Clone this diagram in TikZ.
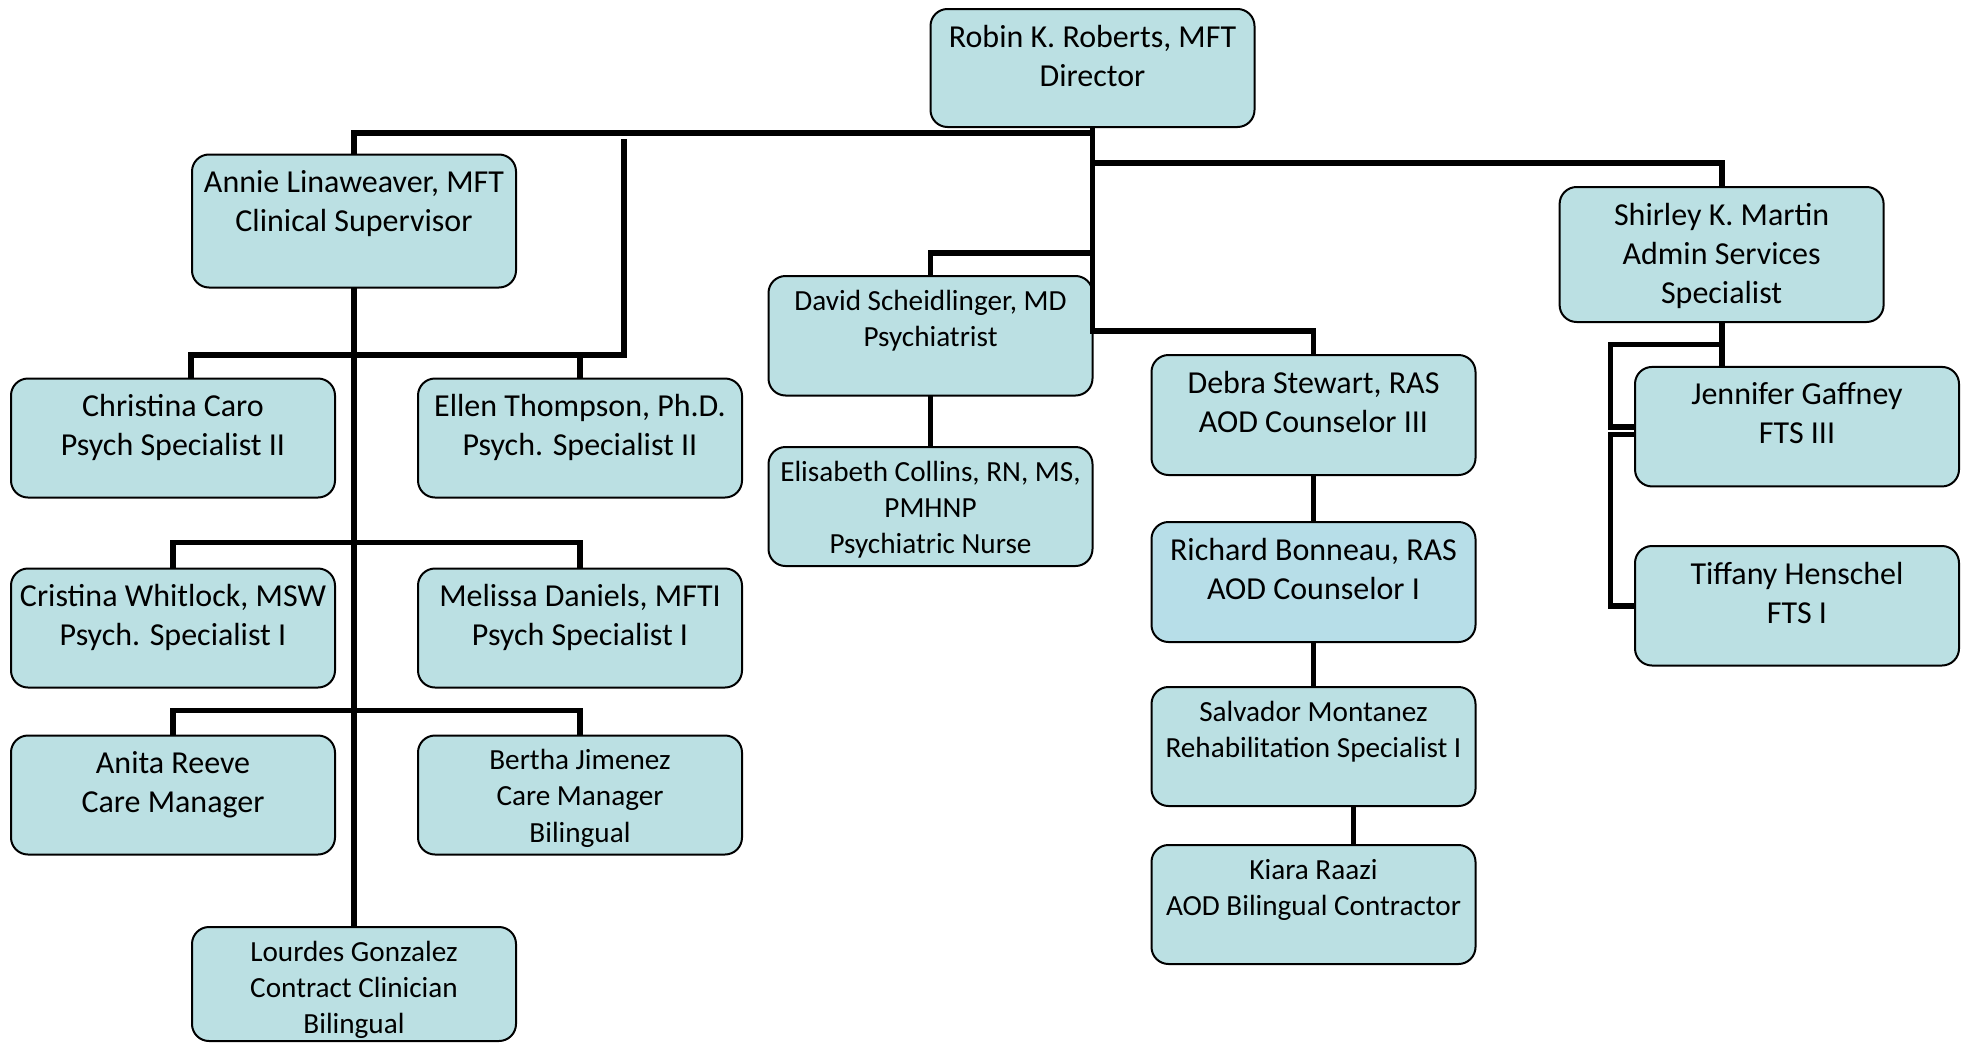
\documentclass[tikz,border=0pt]{standalone}
\usepackage{fontspec}
\setmainfont{Carlito}
\definecolor{boxfill}{HTML}{BBE0E3}
\definecolor{boxfillb}{HTML}{B7DEE8}

% box contents: #1 total height, #2 text (large type)
\newcommand{\bigtxt}[2]{\parbox[t][#1][t]{162pt}{\centering\fontsize{16pt}{19.5pt}\selectfont\rule{0pt}{19pt}#2}}
% box contents with smaller type
\newcommand{\smalltxt}[2]{\parbox[t][#1][t]{162pt}{\centering\fontsize{14.6pt}{18.2pt}\selectfont\rule{0pt}{17pt}#2}}

\tikzset{
  orgbox/.style={draw=black, line width=1pt, rounded corners=8.5pt, fill=boxfill,
    inner sep=0pt, outer sep=0pt},
  conn/.style={draw=black, line width=2.9pt, line join=miter}
}

\begin{document}
\begin{tikzpicture}[x=0.5pt,y=-0.5pt]
\useasboundingbox (0,0) rectangle (1969,1044);

% ---- people ----
\node[orgbox] (robin)    at (1092.5,68)   {\bigtxt{59pt}{Robin K. Roberts, MFT\\Director}};
\node[orgbox] (annie)    at (354,221)     {\bigtxt{66.5pt}{Annie Linaweaver, MFT\\Clinical Supervisor}};
\node[orgbox] (caro)     at (173,438)     {\bigtxt{59.5pt}{Christina Caro\\Psych Specialist II}};
\node[orgbox] (ellen)    at (580,438)     {\bigtxt{59.5pt}{Ellen Thompson, Ph.D.\\Psych. Specialist II}};
\node[orgbox] (whitlock) at (173,628)     {\bigtxt{59.5pt}{Cristina Whitlock, MSW\\Psych. Specialist I}};
\node[orgbox] (daniels)  at (580,628)     {\bigtxt{59.5pt}{Melissa Daniels, MFTI\\Psych Specialist I}};
\node[orgbox] (reeve)    at (173,795)     {\bigtxt{59.5pt}{Anita Reeve\\Care Manager}};
\node[orgbox] (jimenez)  at (580,795)     {\smalltxt{59.5pt}{Bertha Jimenez\\Care Manager\\Bilingual}};
\node[orgbox] (gonzalez) at (354,984)     {\smalltxt{57pt}{Lourdes Gonzalez\\Contract Clinician\\Bilingual}};
\node[orgbox] (david)    at (930.5,335.75){\smalltxt{59.75pt}{David Scheidlinger, MD\\Psychiatrist}};
\node[orgbox] (collins)  at (930.5,506.5) {\smalltxt{59.5pt}{Elisabeth Collins, RN, MS,\\PMHNP\\Psychiatric Nurse}};
\node[orgbox] (stewart)  at (1313.5,415)  {\bigtxt{60pt}{Debra Stewart, RAS\\AOD Counselor III}};
\node[orgbox, fill=boxfillb] (bonneau) at (1313.5,582) {\bigtxt{60pt}{Richard Bonneau, RAS\\AOD Counselor I}};
\node[orgbox] (montanez) at (1313.5,746.5){\smalltxt{59.5pt}{Salvador Montanez\\Rehabilitation Specialist I}};
\node[orgbox] (raazi)    at (1313.5,904.5){\smalltxt{59.5pt}{Kiara Raazi\\AOD Bilingual Contractor}};
\node[orgbox] (martin)   at (1721.6,254.5){\bigtxt{67.5pt}{Shirley K. Martin\\Admin Services\\Specialist}};
\node[orgbox] (gaffney)  at (1797,426.7)  {\bigtxt{59.75pt}{Jennifer Gaffney\\FTS III}};
\node[orgbox] (henschel) at (1797,605.75) {\bigtxt{59.75pt}{Tiffany Henschel\\FTS I}};

% ---- bus levels and bend points ----
\coordinate (yTop)   at (0,133);
\coordinate (yRight) at (0,163);
\coordinate (yDav)   at (0,253);
\coordinate (yDeb)   at (0,331);
\coordinate (ellTop) at (624,139);
\coordinate (caroDrop) at (191,355);
\coordinate (kx)     at (1353.5,0);
\coordinate (fx)     at (1610.5,344.5);
\coordinate (tStart) at (1635,434.5);

% ---- director's lines ----
\draw[conn] (robin.south) -- (robin.south |- yDeb) -| (stewart.north);
\draw[conn] (robin.south |- yTop) -| (annie.north);
\draw[conn] (robin.south |- yRight) -| (martin.north);
\draw[conn] (robin.south |- yDav) -| (david.north);

% ---- clinical team ----
\draw[conn] (ellTop) |- (caroDrop) -- (caroDrop |- caro.north);
\draw[conn] (ellen.north) -- (ellen.north |- caroDrop);
\draw[conn] (annie.south) -- (gonzalez.north);
\draw[conn] (whitlock.north) -- ++(0,-26) -| (daniels.north);
\draw[conn] (reeve.north) -- ++(0,-25) -| (jimenez.north);

% ---- psychiatry and AOD ----
\draw[conn] (david.south) -- (collins.north);
\draw[conn] (stewart.south) -- (bonneau.north);
\draw[conn] (bonneau.south) -- (montanez.north);
\draw[conn] (montanez.south -| kx) -- (raazi.north -| kx);

% ---- admin ----
\draw[conn] (martin.south) -- (martin.south |- gaffney.north);
\draw[conn] (martin.south |- fx) -- (fx) |- (gaffney.west);
\draw[conn] (tStart) -- (tStart -| fx) |- (henschel.west);
\end{tikzpicture}
\end{document}
